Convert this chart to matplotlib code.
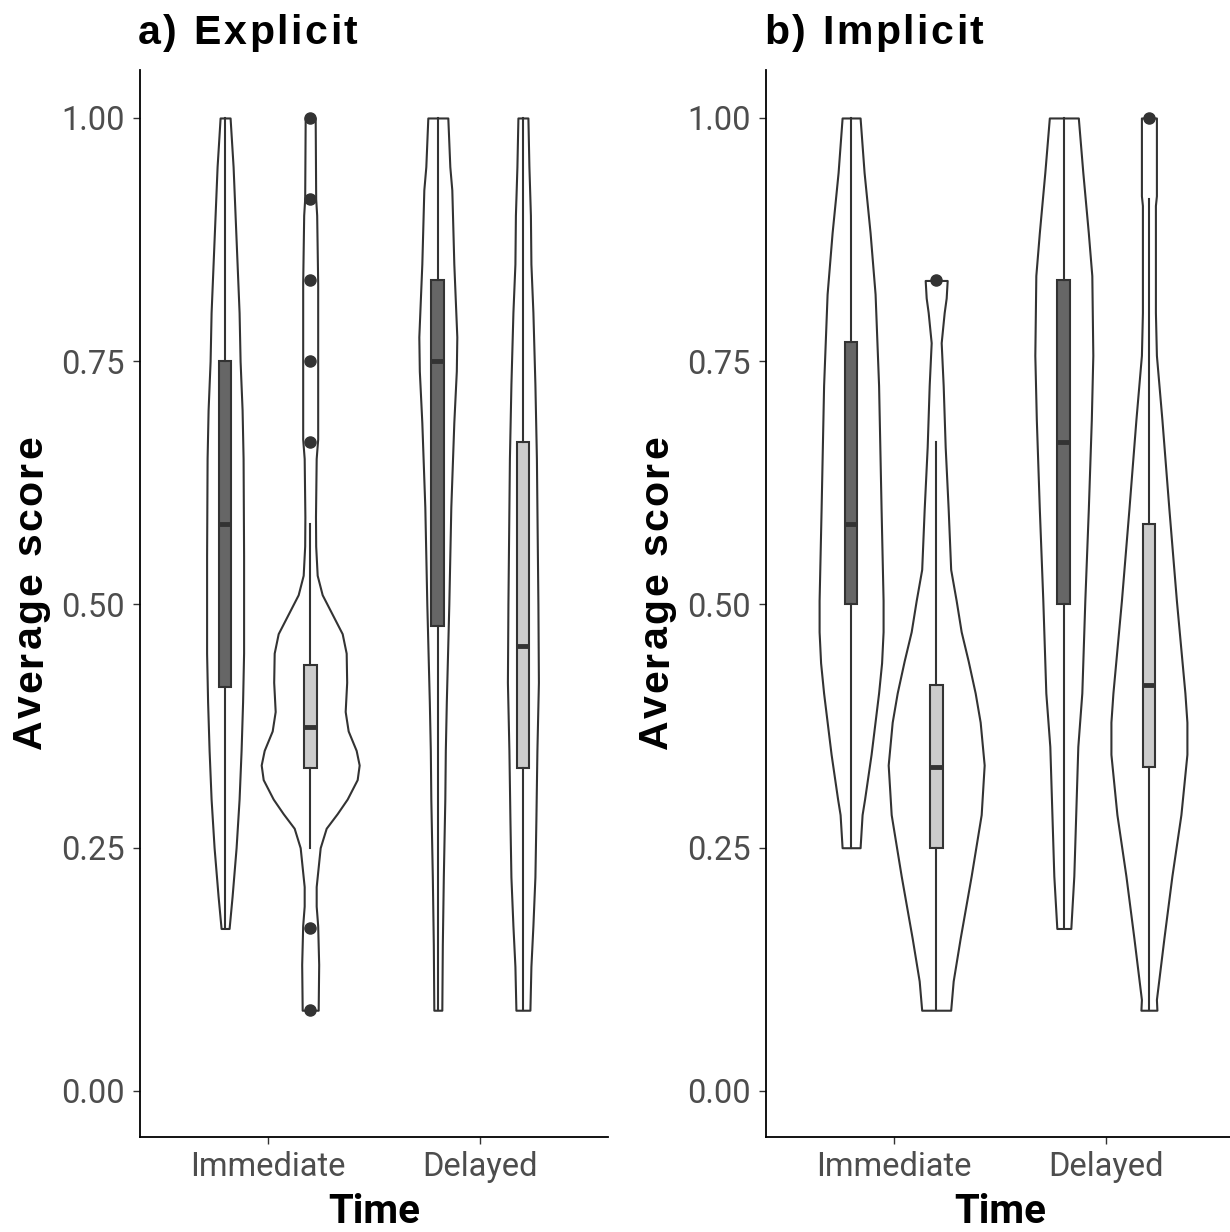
import matplotlib.pyplot as plt
from matplotlib.font_manager import FontProperties
from matplotlib.textpath import TextToPath

plt.rcParams['font.family'] = ['Roboto', 'DejaVu Sans']

times = ['Immediate', 'Delayed']
y_ticks = [0.0, 0.25, 0.5, 0.75, 1.0]

# violin profiles: score levels and half-width (density) at each level
exp_imm1_y = [1.0, 0.95, 0.9, 0.85, 0.8, 0.75, 0.7, 0.65, 0.55, 0.45, 0.4, 0.35, 0.3, 0.25, 0.2, 0.167]
exp_imm1_d = [5, 8, 10, 12, 14, 15, 17, 18, 18.5, 18.5, 17.5, 16, 14, 11, 7, 4]
exp_imm2_y = [1.0, 0.917, 0.9, 0.83, 0.67, 0.65, 0.59, 0.56, 0.53, 0.51, 0.49, 0.47, 0.45, 0.42,
              0.39, 0.37, 0.35, 0.335, 0.32, 0.3, 0.285, 0.27, 0.25, 0.23, 0.21, 0.19, 0.17, 0.13, 0.083]
exp_imm2_d = [5, 5.5, 6.5, 7.5, 7.5, 6, 5.3, 5.5, 7, 12, 22, 32, 36, 36.5,
              35, 38, 46, 49, 47, 37, 27, 16, 10, 8, 6, 6, 7.5, 8.5, 8]
exp_del1_y = [1.0, 0.95, 0.926, 0.85, 0.8, 0.775, 0.74, 0.687, 0.6, 0.5, 0.4, 0.35, 0.3, 0.22, 0.15, 0.083]
exp_del1_d = [10, 12, 14, 16, 18, 19, 18.5, 16, 13, 11, 8.5, 7.5, 7, 5.5, 4.5, 4]
exp_del2_y = [1.0, 0.95, 0.9, 0.85, 0.8, 0.726, 0.65, 0.6, 0.5, 0.42, 0.35, 0.28, 0.22, 0.17, 0.128, 0.083]
exp_del2_d = [5, 6, 7.5, 8, 10, 12, 13.5, 14, 15, 15.5, 14, 13, 12, 10, 8, 7]

imp_imm1_y = [1.0, 0.944, 0.882, 0.819, 0.725, 0.598, 0.504, 0.472, 0.44, 0.409, 0.346, 0.3, 0.284, 0.25]
imp_imm1_d = [9, 13, 19, 24, 27.5, 30, 32, 32, 30.5, 27.5, 20, 13.5, 11, 9]
imp_imm2_y = [0.833, 0.815, 0.8, 0.769, 0.725, 0.662, 0.598, 0.536, 0.504, 0.472, 0.442, 0.409,
              0.379, 0.335, 0.284, 0.221, 0.157, 0.113, 0.083]
imp_imm2_d = [11, 10, 8, 5, 7, 9, 12, 14.5, 20, 25, 32, 39, 44, 48, 45, 35, 24, 17, 14.5]
imp_del1_y = [1.0, 0.944, 0.882, 0.838, 0.756, 0.69, 0.598, 0.504, 0.409, 0.354, 0.221, 0.167]
imp_del1_d = [14.5, 19, 24.5, 28, 29, 27.5, 24.5, 21, 18, 14, 10, 7]
imp_del2_y = [1.0, 0.92, 0.91, 0.8, 0.756, 0.69, 0.598, 0.504, 0.409, 0.379, 0.346, 0.284,
              0.221, 0.157, 0.094, 0.083]
imp_del2_d = [7.5, 7.5, 6.5, 6.5, 7.5, 13, 20, 27.5, 36, 38, 38, 32, 23, 15, 7.5, 8]

# box stats: lower whisker, q1, median, q3, upper whisker
exp_imm1_box = [0.167, 0.415, 0.583, 0.75, 1.0]
exp_imm2_box = [0.25, 0.332, 0.374, 0.438, 0.583]
exp_del1_box = [0.083, 0.478, 0.75, 0.833, 1.0]
exp_del2_box = [0.083, 0.332, 0.457, 0.667, 1.0]
imp_imm1_box = [0.25, 0.5, 0.583, 0.77, 1.0]
imp_imm2_box = [0.083, 0.25, 0.333, 0.417, 0.667]
imp_del1_box = [0.167, 0.5, 0.667, 0.833, 1.0]
imp_del2_box = [0.083, 0.333, 0.417, 0.583, 0.917]

exp_imm2_out = [1.0, 0.917, 0.833, 0.75, 0.667, 0.167, 0.083]
imp_imm2_out = [0.833]
imp_del2_out = [1.0]

panels = [
    ('a) Explicit', [
        (exp_imm1_y, exp_imm1_d, exp_imm1_box, []),
        (exp_imm2_y, exp_imm2_d, exp_imm2_box, exp_imm2_out),
        (exp_del1_y, exp_del1_d, exp_del1_box, []),
        (exp_del2_y, exp_del2_d, exp_del2_box, []),
    ]),
    ('b) Implicit', [
        (imp_imm1_y, imp_imm1_d, imp_imm1_box, []),
        (imp_imm2_y, imp_imm2_d, imp_imm2_box, imp_imm2_out),
        (imp_del1_y, imp_del1_d, imp_del1_box, []),
        (imp_del2_y, imp_del2_d, imp_del2_box, imp_del2_out),
    ]),
]

W, H = 1230, 1232
fig = plt.figure(figsize=(W / 100, H / 100), dpi=100)

dens_scale = 0.0047
dodge = 0.2
box_fill = ['#666666', '#CCCCCC']
line_col = '#333333'
head_prop = FontProperties(family=['Liberation Sans', 'DejaVu Sans'], weight='bold', size=29.5)
t2p = TextToPath()


def text_px(s):
    # ink width of a string in pixels
    return t2p.get_text_width_height_descent(s, head_prop, ismath=False)[0] * 100 / 72


def spaced_text(x0, y0, s, track, vertical=False, center=False):
    # draw a heading one glyph at a time with extra letter spacing (pixel coords)
    total = text_px(s) + track * (len(s) - 1)
    start = -total / 2 if center else 0
    for i, ch in enumerate(s):
        if ch == ' ':
            continue
        off = start + text_px(s[:i + 1]) - text_px(ch) + track * i
        if vertical:
            px, py = x0, y0 - off
        else:
            px, py = x0 + off, y0
        fig.text(px / W, 1 - py / H, ch, fontproperties=head_prop, ha='left', va='baseline',
                 rotation=90 if vertical else 0, rotation_mode='anchor')


for k, (title, items) in enumerate(panels):
    left = [140, 766][k]
    ax = fig.add_axes([left / W, (H - 1137) / H, 468 / W, 1067 / H])
    for i, (vy, vd, st, out) in enumerate(items):
        g = i % 2
        x = 1 + i // 2 + (-dodge if g == 0 else dodge)
        lo = [x - d * dens_scale for d in vd]
        hi = [x + d * dens_scale for d in vd]
        ax.fill_betweenx(vy, lo, hi, facecolor='white', edgecolor=line_col, lw=1.5, zorder=1)
        stats = [dict(whislo=st[0], q1=st[1], med=st[2], q3=st[3], whishi=st[4], fliers=out)]
        ax.bxp(stats, positions=[x], widths=0.06, patch_artist=True, showcaps=False,
               manage_ticks=False, zorder=2,
               boxprops=dict(facecolor=box_fill[g], edgecolor=line_col, lw=1.5),
               whiskerprops=dict(color=line_col, lw=1.5),
               medianprops=dict(color=line_col, lw=3.5, solid_capstyle='butt'),
               flierprops=dict(marker='o', markersize=8, markerfacecolor=line_col,
                               markeredgecolor=line_col))

    ax.set_xlim(0.4, 2.6)
    ax.set_ylim(-0.0473, 1.0493)
    ax.set_xticks([1, 2])
    ax.set_xticklabels(times)
    ax.set_yticks(y_ticks)
    ax.set_yticklabels(['%.2f' % t for t in y_ticks])
    ax.tick_params(axis='both', length=5, width=1, color=line_col, labelcolor='#4D4D4D',
                   labelsize=23.5)
    ax.tick_params(axis='x', pad=5)
    ax.tick_params(axis='y', pad=6)
    for s in ['top', 'right']:
        ax.spines[s].set_visible(False)
    for s in ['left', 'bottom']:
        ax.spines[s].set_linewidth(1.3)
        ax.spines[s].set_color('black')

    spaced_text(left - 2, 44, title, 2.6)
    spaced_text(left - 99, 592, 'Average score', 2.7, vertical=True, center=True)
    fig.text((left + 234) / W, 1 - 1223 / H, 'Time', fontsize=29, fontweight='bold',
             ha='center', va='baseline')

fig.savefig('out.png', dpi=100)
